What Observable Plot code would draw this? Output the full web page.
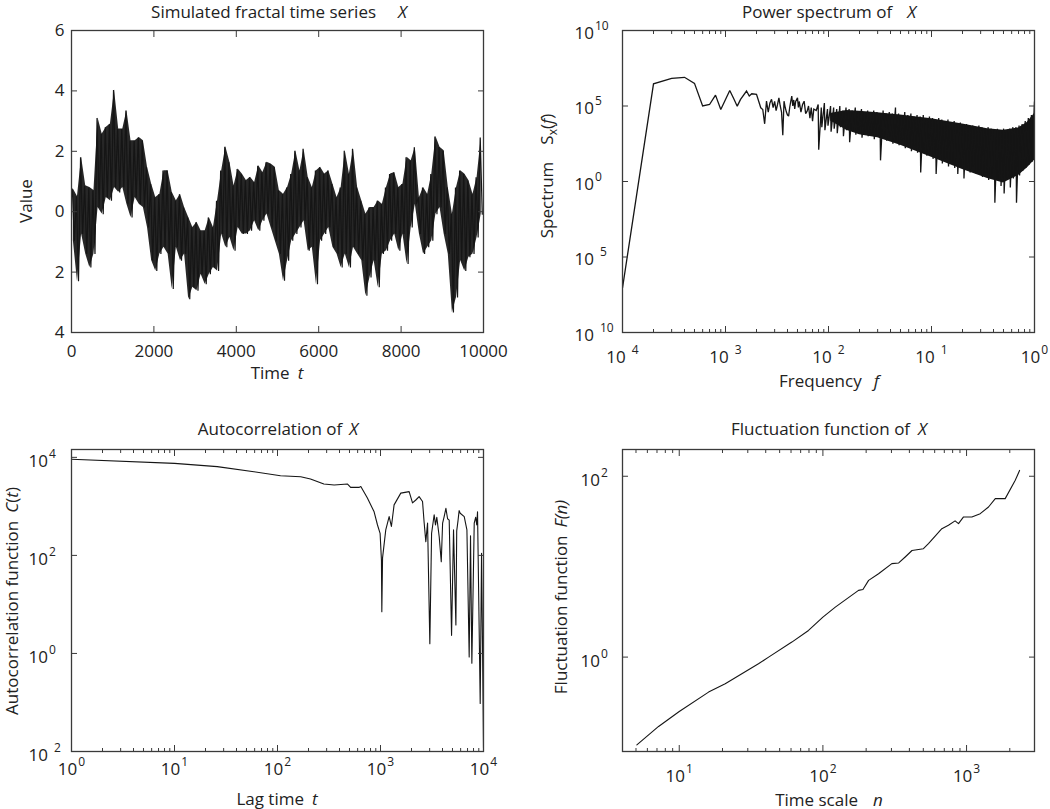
<!DOCTYPE html>
<html>
<head>
<meta charset="utf-8">
<script src="https://cdn.jsdelivr.net/npm/d3@7"></script>
<script src="https://cdn.jsdelivr.net/npm/@observablehq/plot@0.6"></script>
<style>
  html, body { margin: 0; padding: 0; background: #fff; }
  #wrap { position: relative; width: 1050px; height: 809px; background: #fff; overflow: hidden; }
  .pnl { position: absolute; }
  .lbl { position: absolute; font-family: 'Open Sans', sans-serif; font-size: 17px; color: #222; white-space: nowrap; line-height: 1; }
  .lbl sub { font-size: 12px; vertical-align: -4px; line-height: 0; }
</style>
</head>
<body>
<div id="wrap"></div>
<script>
// ---------------- DATA ----------------
// Simulated fractal time series: per 100-step bin [bin start t, max value, min value]
const seriesBins = [
  [0,0.75,-0.96],[100,0.5,-2.3],[200,1.8,-0.74],[300,0.86,-1.4],[400,0.8,-1.85],[500,0.7,-1.4],[600,3.1,0.14],[700,2.57,-0.08],[800,2.8,0.47],[900,2.9,0.36],
  [1000,4.03,0.8],[1100,2.74,0.64],[1200,2.74,0.8],[1300,3.35,0.25],[1400,2.35,-0.19],[1500,2.35,0.47],[1600,2.46,0.25],[1700,2.35,0.14],[1800,1.47,-0.52],[1900,0.92,-1.62],
  [2000,0.47,-1.96],[2100,0.58,-1.4],[2200,1.36,-1.18],[2300,1.36,-1.4],[2400,0.64,-2.56],[2500,0.36,-1.18],[2600,0.58,-1.62],[2700,0.14,-1.4],[2800,-0.19,-2.9],[2900,-0.52,-2.5],
  [3000,-0.35,-2.62],[3100,-0.63,-2.07],[3200,-0.63,-2.4],[3300,-0.19,-2.07],[3400,-0.52,-1.85],[3500,0.36,-1.96],[3600,1.36,-0.74],[3700,2.15,-1.18],[3800,1.64,-0.85],[3900,0.86,-1.29],
  [4000,1.41,-0.52],[4100,1.25,-0.74],[4200,1.03,-0.74],[4300,1.14,-0.63],[4400,0.97,-0.3],[4500,1.52,-0.63],[4600,1.3,-0.3],[4700,1.64,-0.08],[4800,1.58,-0.52],[4900,1.47,-0.96],
  [5000,0.7,-1.4],[5100,0.58,-2.29],[5200,0.8,-1.62],[5300,1.25,-0.96],[5400,2.02,-0.74],[5500,1.36,-0.52],[5600,2.08,-0.3],[5700,1.14,-1.29],[5800,0.8,-1.18],[5900,1.36,-2.4],
  [6000,1.47,-0.96],[6100,1.25,-0.74],[6200,1.36,-0.52],[6300,0.92,-1.18],[6400,0.47,-1.4],[6500,0.8,-1.85],[6600,2.02,-1.4],[6700,1.25,-1.85],[6800,2.08,-1.18],[6900,0.8,-1.4],
  [7000,0.36,-1.62],[7100,-0.08,-2.78],[7200,0.14,-2.18],[7300,0.14,-1.62],[7400,0.36,-2.5],[7500,0.25,-1.4],[7600,0.8,-1.29],[7700,1.25,-0.96],[7800,1.3,-0.74],[7900,0.8,-1.29],
  [8000,0.92,-0.74],[8100,1.8,-1.73],[8200,1.69,-0.52],[8300,2.13,0.25],[8400,0.47,-0.74],[8500,0.8,-1.4],[8600,0.58,-1.18],[8700,1.25,-0.96],[8800,2.49,-0.08],[8900,2.13,0.14],
  [9000,2.02,-0.74],[9100,0.8,-1.4],[9200,-0.08,-3.34],[9300,0.8,-2.84],[9400,1.36,-1.62],[9500,1.25,-1.96],[9600,1.03,-1.51],[9700,0.58,-1.4],[9800,1.14,-0.85],[9900,2.46,-0.08]
];
const seriesXTicks = [0, 2000, 4000, 6000, 8000, 10000];
const seriesYTicks = [-4, -2, 0, 2, 4, 6];

// Power spectrum: low-frequency points [f, log10 S]
const spectrumSparse = [
  [0.0001,-7.05],[0.0002,6.47],[0.0003,6.83],[0.0004,6.9],[0.0005,6.5],[0.0006,5.0],[0.0007,5.1],[0.0008,5.72],[0.0009,4.77],
  [0.0011,6.03],[0.0012,5.5],[0.0013,4.99],[0.0014,5.44],[0.0016,5.99],[0.0017,5.66],[0.0018,5.81],[0.002,5.77],
  [0.0022,4.88],[0.0023,4.77],[0.0024,3.82],[0.0025,5.32],[0.0026,4.6],[0.0027,5.2],[0.0028,5.44],[0.0029,4.9],[0.003,5.3],
  [0.0031,4.7],[0.0032,5.1],[0.0033,5.54],[0.0034,5.0],[0.0035,4.6],[0.0036,3.07],[0.0037,5.32],[0.0038,4.9],[0.0039,4.6],
  [0.004,4.4],[0.0041,4.33],[0.0042,4.9],[0.0043,5.3],[0.0044,5.66],[0.0045,5.0],[0.0046,5.4],[0.0047,4.8],[0.0048,5.3],
  [0.005,5.54],[0.0051,4.9],[0.0052,5.3],[0.0054,4.6],[0.0056,5.1],[0.0058,5.32],[0.006,4.5],[0.0062,4.66],[0.0064,5.0],
  [0.0066,4.2],[0.0068,4.9],[0.007,4.0],[0.0072,4.8],[0.0076,4.7]
];
// Power spectrum: dense part, per bin [f, log10 S max, log10 S min]
const spectrumDense = [
  [0.00794,5.1,2.1],[0.00851,4.9,3.6],[0.00912,5.2,3.4],[0.00977,4.8,3.7],[0.01047,5.0,3.3],[0.01122,4.9,3.5],[0.01202,4.8,3.2],[0.01288,5.0,3.6],
  [0.0138,4.7,3.0],[0.01479,4.9,3.4],[0.01585,4.8,2.6],[0.01698,4.7,3.3],[0.0182,4.9,3.1],[0.0195,4.6,3.4],[0.0209,4.8,2.9],[0.0224,4.6,3.3],
  [0.024,4.7,3.0],[0.0257,4.5,3.2],[0.0275,4.7,2.8],[0.0295,4.6,3.1],[0.0316,4.5,1.4],[0.0339,4.7,2.9],[0.0363,4.5,2.7],[0.0389,4.6,3.0],
  [0.0417,4.5,2.5],[0.0447,4.9,2.8],[0.0479,4.5,2.4],[0.0513,4.4,2.7],[0.055,4.6,2.2],[0.0589,4.4,2.5],[0.0631,4.5,2.0],[0.0676,4.3,2.4],
  [0.0724,4.4,1.9],[0.0776,4.3,0.6],[0.0832,4.4,2.1],[0.0891,4.2,1.7],[0.0955,4.3,2.0],[0.1023,4.2,1.5],[0.1096,4.1,0.5],[0.1175,4.2,1.6],
  [0.1259,4.1,1.2],[0.1349,4.0,1.5],[0.1445,4.1,1.0],[0.1549,3.9,1.3],[0.166,4.0,0.9],[0.1778,3.8,0.5],[0.1905,3.9,1.0],[0.2042,3.8,0.2],
  [0.2188,3.8,0.9],[0.2344,3.7,0.6],[0.2512,3.7,1.0],[0.2692,3.6,0.5],[0.2884,3.7,0.8],[0.309,3.6,0.3],[0.3311,3.5,0.6],[0.3548,3.6,0.1],
  [0.3802,3.5,0.4],[0.4074,3.4,-1.4],[0.4365,3.5,0.2],[0.4677,3.4,-0.3],[0.5012,3.5,-0.8],[0.537,3.4,0.1],[0.5754,3.5,-0.4],[0.6166,3.6,0.2],
  [0.6607,3.6,-1.4],[0.7079,3.7,0.4],[0.7586,3.8,0.7],[0.8128,4.0,0.9],[0.871,4.2,1.1],[0.9333,4.4,1.3],[1.0,5.3,1.6]
];
// Power spectrum: solid core of the dense band [f, log10 top, log10 bottom]
const spectrumCore = [
  [0.0105,4.5,4.0],[0.015,4.7,3.4],[0.02,4.65,3.1],[0.03,4.55,2.9],[0.05,4.4,2.4],[0.1,4.15,1.6],
  [0.2,3.8,0.8],[0.35,3.5,0.2],[0.5,3.4,-0.1],[0.7,3.55,0.4],[0.85,3.9,0.9],[1.0,4.5,1.4]
];
const spectrumXTicks = [1e-4, 1e-3, 1e-2, 1e-1, 1];
const spectrumYTicks = [1e-10, 1e-5, 1, 1e5, 1e10];

// Autocorrelation [lag t, C(t)]
const autocorr = [
  [1,9120],[10,7530],[26,6460],[59,5090],[107,4220],[168,4030],[209,3610],[282,2850],[355,2720],[479,2850],
  [513,2440],[617,2440],[644,2540],[746,1480],[867,776],[935,417],[991,282],[1021,81],[1030,7.1],[1047,89],
  [1125,331],[1213,617],[1276,389],[1355,1072],[1574,1862],[1897,1995],[2046,1175],[2203,1349],[2371,1585],[2559,1259],
  [2655,457],[2754,191],[2864,457],[3013,1.58],[3133,282],[3319,676],[3420,420],[3520,600],[3715,240],[3890,74],
  [4009,457],[4150,620],[4315,912],[4480,560],[4645,525],[4898,2.34],[5117,331],[5395,3.8],[5495,316],[5650,500],
  [5800,820],[5943,724],[6501,617],[6700,450],[6902,331],[7261,0.85],[7482,251],[7709,0.63],[8128,457],[8400,600],
  [8600,420],[8750,776],[9290,0.095],[9572,110],[9772,1.86],[10000,0.012]
];
const autocorrXTicks = [1, 10, 100, 1000, 10000];
const autocorrYTicks = [1e-2, 1, 1e2, 1e4];

// Fluctuation function [n, F(n)]
const fluctuation = [
  [5.07,0.107],[7.18,0.171],[10,0.25],[16,0.41],[20.9,0.507],[35.6,0.843],[41.9,1.0],[60.8,1.466],[79.4,1.972],[100,2.77],
  [122,3.57],[177,5.47],[190,5.6],[208,7.06],[244,8.36],[302,10.8],[337,11.0],[374,12.8],[417,15.1],[501,15.8],
  [543,18.0],[673,26.3],[748,28.7],[832,32.1],[879,29.9],[953,35.5],[1089,35.5],[1245,38.6],[1422,45.7],[1585,56.6],
  [1858,56.6],[2183,90.4],[2339,116]
];
const fluctXTicks = [10, 100, 1000];
const fluctYTicks = [1, 100];

// ---------------- RENDERING ----------------
const FONT = "'Open Sans', sans-serif";
const INK = "#151515";
const FRAME = "#3a3a3a";
const NS = "http://www.w3.org/2000/svg";
const wrap = document.getElementById("wrap");

const powLabel = d => "10^" + Math.round(Math.log10(d));
const plainAbs = d => String(Math.abs(d));
function logMinor(domain) {
  return d3.scaleLog().domain(domain).ticks()
    .filter(v => Math.abs(Math.log10(v) - Math.round(Math.log10(v))) > 1e-9);
}

function supify(svg) {
  svg.querySelectorAll("text").forEach(t => {
    const m = (t.textContent || "").match(/^10\^(-?\d+)$/);
    if (!m) return;
    const e = +m[1];
    t.textContent = "";
    const base = document.createElementNS(NS, "tspan");
    base.textContent = "10";
    const sup = document.createElementNS(NS, "tspan");
    sup.textContent = String(Math.abs(e));
    sup.setAttribute("font-size", "12px");
    sup.setAttribute("dy", "-9");
    sup.setAttribute("dx", e < 0 ? "6" : "1");
    t.append(base, sup);
  });
}

function panel(o) {
  const marks = [...o.marks];
  const tk = {stroke: FRAME, strokeWidth: 1, label: null, tickFormat: () => ""};
  marks.push(Plot.axisX({anchor: "bottom", ticks: o.xTicks, tickSize: -6, ...tk}));
  marks.push(Plot.axisX({anchor: "top", ticks: o.xTicks, tickSize: -6, ...tk}));
  if (o.xMinor) {
    marks.push(Plot.axisX({anchor: "bottom", ticks: o.xMinor, tickSize: -3, ...tk}));
    marks.push(Plot.axisX({anchor: "top", ticks: o.xMinor, tickSize: -3, ...tk}));
  }
  marks.push(Plot.axisY({anchor: "left", ticks: o.yTicks, tickSize: -6, ...tk}));
  marks.push(Plot.axisY({anchor: "right", ticks: o.yTicks, tickSize: -6, ...tk}));
  marks.push(Plot.axisX({anchor: "bottom", ticks: o.xTicks, tickSize: 0, tickPadding: o.xPad,
    tickFormat: o.xFmt, label: null, fill: "#222"}));
  marks.push(Plot.axisY({anchor: "left", ticks: o.yTicks, tickSize: 0, tickPadding: o.yPad,
    tickFormat: o.yFmt, label: null, fill: "#222", textAnchor: o.yAnchor, dy: o.yDy || 0}));
  marks.push(Plot.frame({stroke: FRAME, strokeWidth: 1.3}));
  const svg = Plot.plot({
    width: o.width, height: o.height,
    marginLeft: o.ml, marginRight: o.mr, marginTop: o.mt, marginBottom: o.mb,
    style: {fontFamily: FONT, fontSize: "17px", color: "#222", background: "transparent", overflow: "visible"},
    x: {type: o.xType, domain: o.xDomain},
    y: {type: o.yType, domain: o.yDomain},
    marks
  });
  supify(svg);
  const div = document.createElement("div");
  div.className = "pnl";
  div.style.left = o.left + "px";
  div.style.top = o.top + "px";
  div.appendChild(svg);
  wrap.appendChild(div);
}

function label(html, x, y, rot) {
  const d = document.createElement("div");
  d.className = "lbl";
  d.innerHTML = html;
  d.style.left = x + "px";
  d.style.top = y + "px";
  d.style.transform = "translate(-50%,-50%)" + (rot ? " rotate(-90deg)" : "");
  wrap.appendChild(d);
}

// Panel 1: time series — envelope of each bin filled, with a zig-zag through max and min
const seriesPts = seriesBins.flatMap(([t, hi, lo]) => [{t: t + 20, v: hi}, {t: t + 70, v: lo}]);
const seriesEnv = seriesBins.map(([t, hi, lo]) => ({t: t + 45, hi, lo}));
panel({
  left: 0, top: 0, width: 525, height: 400, ml: 71, mr: 42, mt: 30, mb: 68,
  xType: "linear", xDomain: [0, 10000], yType: "linear", yDomain: [-4, 6],
  xTicks: seriesXTicks, yTicks: seriesYTicks,
  xFmt: d => String(d), yFmt: plainAbs, xPad: 12, yPad: 7, yAnchor: "end",
  marks: [
    Plot.areaY(seriesEnv, {x: "t", y1: "lo", y2: "hi", fill: INK, fillOpacity: 0.92}),
    Plot.line(seriesPts, {x: "t", y: "v", stroke: INK, strokeWidth: 1.2, strokeLinejoin: "miter", strokeMiterlimit: 2})
  ]
});

// Panel 2: power spectrum
const specLine = [
  ...spectrumSparse.map(([f, s]) => ({f, s: 10 ** s})),
  ...spectrumDense.flatMap(([f, hi, lo]) => [{f, s: 10 ** hi}, {f: f * 1.012, s: 10 ** lo}])
];
const specCore = spectrumCore.map(([f, top, bot]) => ({f, top: 10 ** top, bot: 10 ** bot}));
panel({
  left: 525, top: 0, width: 525, height: 400, ml: 97, mr: 16, mt: 30, mb: 68,
  xType: "log", xDomain: [1e-4, 1], yType: "log", yDomain: [1e-10, 1e10],
  xTicks: spectrumXTicks, yTicks: spectrumYTicks, xMinor: logMinor([1e-4, 1]),
  xFmt: powLabel, yFmt: powLabel, xPad: 18, yPad: 48, yAnchor: "start", yDy: 3,
  marks: [
    Plot.areaY(specCore, {x: "f", y1: "bot", y2: "top", fill: INK}),
    Plot.line(specLine, {x: "f", y: "s", stroke: INK, strokeWidth: 1.3, strokeLinejoin: "miter", strokeMiterlimit: 2, clip: true})
  ]
});

// Panel 3: autocorrelation
panel({
  left: 0, top: 400, width: 525, height: 409, ml: 71, mr: 42, mt: 49, mb: 58,
  xType: "log", xDomain: [1, 1e4], yType: "log", yDomain: [1e-2, 10 ** 4.16],
  xTicks: autocorrXTicks, yTicks: autocorrYTicks, xMinor: logMinor([1, 1e4]),
  xFmt: powLabel, yFmt: powLabel, xPad: 11, yPad: 43, yAnchor: "start", yDy: 4,
  marks: [Plot.line(autocorr, {x: d => d[0], y: d => d[1], stroke: INK, strokeWidth: 1.1, clip: true})]
});

// Panel 4: fluctuation function
panel({
  left: 525, top: 400, width: 525, height: 409, ml: 97, mr: 16, mt: 49, mb: 58,
  xType: "log", xDomain: [10 ** 0.605, 10 ** 3.473], yType: "log", yDomain: [10 ** -1.044, 10 ** 2.296],
  xTicks: fluctXTicks, yTicks: fluctYTicks, xMinor: logMinor([10 ** 0.605, 10 ** 3.473]),
  xFmt: powLabel, yFmt: powLabel, xPad: 18, yPad: 42, yAnchor: "start", yDy: 4,
  marks: [Plot.line(fluctuation, {x: d => d[0], y: d => d[1], stroke: INK, strokeWidth: 1.1})]
});

// Titles and axis labels
label('Simulated fractal time series<i style="margin-left:22px">X</i>', 279, 11);
label('Time<i style="margin-left:8px">t</i>', 277, 372);
label('Value', 25, 201, true);

label('Power spectrum of<i style="margin-left:15px">X</i>', 829, 11);
label('Frequency<i style="margin-left:12px">f</i>', 829, 380);
label('Spectrum<span style="margin-left:17px">S<sub>x</sub>(<i>f</i>)</span>', 546, 176, true);

label('Autocorrelation of<i style="margin-left:7px">X</i>', 278, 428);
label('Lag time<i style="margin-left:8px">t</i>', 277, 798);
label('Autocorrelation function<span style="margin-left:8px"><i>C</i>(<i>t</i>)</span>', 11, 601, true);

label('Fluctuation function of<i style="margin-left:8px">X</i>', 829, 428);
label('Time scale<i style="margin-left:15px">n</i>', 829, 799);
label('Fluctuation function<i style="margin-left:8px">F(n)</i>', 560, 597, true);
</script>
</body>
</html>
